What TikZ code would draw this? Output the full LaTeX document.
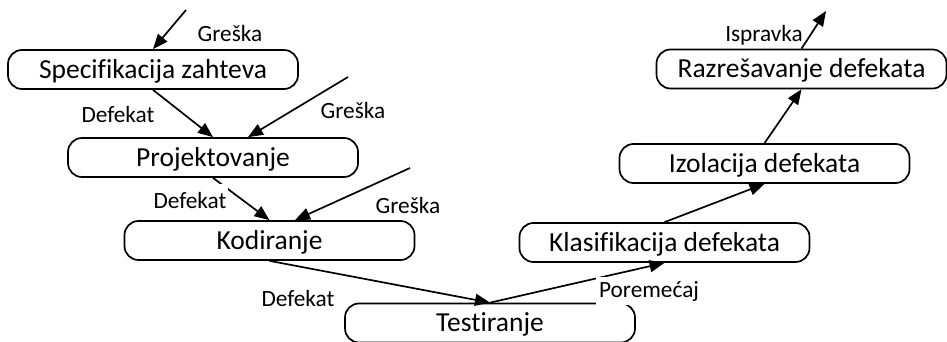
\documentclass[tikz,border=0pt]{standalone}
\usepackage{fontspec}
\setmainfont{Carlito}[Ligatures=NoCommon]
\usetikzlibrary{arrows.meta}
\begin{document}
\begin{tikzpicture}[x=1pt,y=-1pt,
  box/.style={draw, line width=1.7pt, rounded corners=14pt, minimum width=290pt,
    minimum height=39pt, inner sep=0pt, font=\fontsize{27.5}{30}\selectfont,
    text height=17.7pt, text depth=0pt},
  lbl/.style={font=\fontsize{23.3}{26}\selectfont, anchor=base, inner sep=1pt},
  arr/.style={line width=1.7pt, -{Triangle[length=15pt,width=12pt]}}]
\useasboundingbox (0,0) rectangle (947,342);

\node[box] (spec) at (153,69.5) {Specifikacija zahteva};
\node[box] (proj) at (213,157.5) {Projektovanje};
\node[box] (kod) at (269.5,240.5) {Kodiranje};
\node[box] (test) at (490,323) {Testiranje};
\node[box] (klas) at (664.5,242.5) {Klasifikacija defekata};
\node[box] (izol) at (764.5,163.5) {Izolacija defekata};
\node[box] (razr) at (801.5,69) {Razrešavanje defekata};

\coordinate (g1) at (186,10);
\coordinate (g2) at (348,77);
\coordinate (g3) at (410,168);
\coordinate (out) at (826,11);

\draw[arr] (g1) -- (spec.north);
\draw[arr] (spec.south) -- (proj.north);
\draw[arr] (g2) -- ([xshift=35pt]proj.north);
\draw[arr] (proj.south) -- (kod.north);
\draw[arr] (g3) -- ([xshift=25.5pt]kod.north);
\draw[arr] (kod.south) -- (test.north);
\draw[arr] (test.north) -- (klas.south);
\draw[arr] (klas.north) -- (izol.south);
\draw[arr] (izol.north) -- (razr.south);
\draw[arr] (razr.north) -- (out);

\node[lbl] (l1) at (230,42) {Greška};
\node[lbl] (l2) at (118,122) {Defekat};
\node[lbl] (l3) at (353,118) {Greška};
\node[lbl, fill=white, inner xsep=2pt, inner ysep=8pt] (l4) at (190,208) {Defekat};
\node[lbl] (l5) at (408,213) {Greška};
\node[lbl] (l6) at (298,306) {Defekat};
\node[lbl, fill=white, inner xsep=3pt, inner ysep=4pt] (l7) at (649,297) {Poremećaj};
\node[lbl] (l8) at (764,42) {Ispravka};
\end{tikzpicture}
\end{document}
